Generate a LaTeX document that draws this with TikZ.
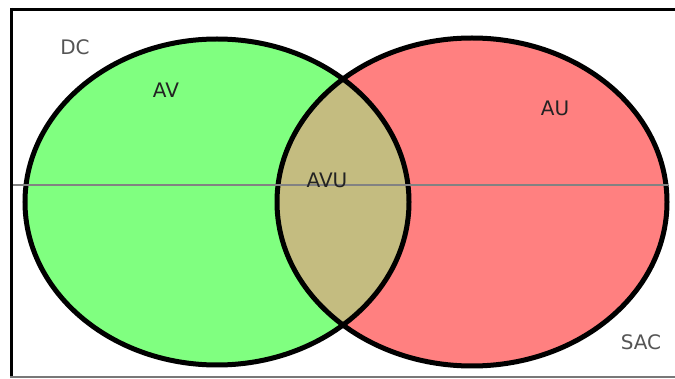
\documentclass[tikz,border=0pt]{standalone}
\usepackage{fontspec}
\setmainfont{DejaVu Sans}
\begin{document}
\begin{tikzpicture}[x=1pt,y=-1pt,
  lbl/.style={font=\fontsize{20}{23}\selectfont, inner sep=0pt},
  outer/.style={lbl, text={rgb,255:red,85;green,85;blue,85}},
  inner/.style={lbl, text={rgb,255:red,35;green,35;blue,35}},
  ring/.style={draw=black, line width=5pt}]
\definecolor{vgreen}{RGB}{128,255,128}
\definecolor{vred}{RGB}{255,128,128}
\definecolor{volive}{RGB}{196,188,128}
\useasboundingbox (0,0) rectangle (675,379);
\fill[white] (0,0) rectangle (675,379);
% fills
\fill[vgreen] (217,202) ellipse [x radius=192, y radius=163];
\fill[vred] (472,202) ellipse [x radius=195, y radius=164];
\begin{scope}
  \clip (217,202) ellipse [x radius=192, y radius=163];
  \fill[volive] (472,202) ellipse [x radius=195, y radius=164];
\end{scope}
% outlines
\draw[ring] (217,202) ellipse [x radius=192, y radius=163];
\draw[ring] (472,202) ellipse [x radius=195, y radius=164];
% horizontal line
\draw[line width=2.5pt, draw={rgb,255:red,130;green,130;blue,130}] (10,185) -- (668,185);
% frame
\draw[line width=3pt, black] (10,9.5) -- (675,9.5);
\draw[line width=3.5pt, black] (11.5,8) -- (11.5,378);
\draw[line width=2pt, draw={rgb,255:red,120;green,120;blue,120}] (10,377) -- (675,377);
% labels
\node[outer] (dc) at (75,47) {DC};
\node[inner] (av) at (166,90) {AV};
\node[inner] (au) at (555,108) {AU};
\node[inner] (avu) at (327,180) {AVU};
\node[outer] (sac) at (641,342) {SAC};
\end{tikzpicture}
\end{document}
